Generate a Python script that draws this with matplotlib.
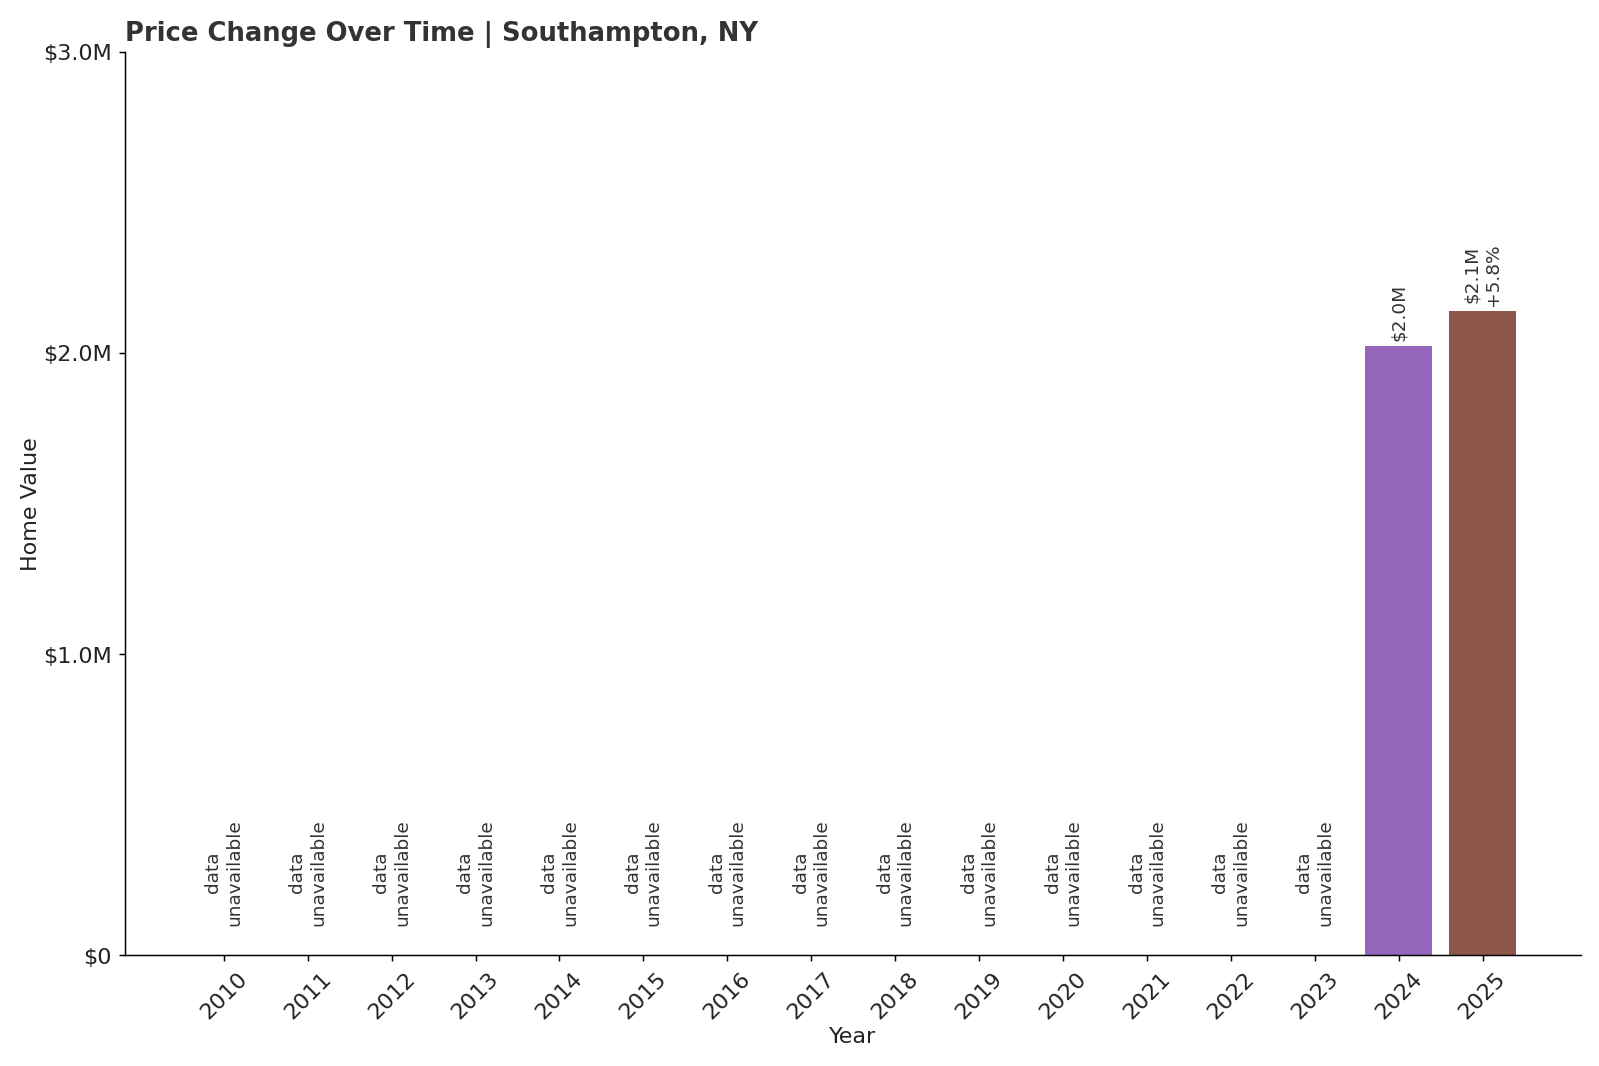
import numpy as np
import matplotlib
matplotlib.use("Agg")
import matplotlib.pyplot as plt
from matplotlib.ticker import FuncFormatter

# home values per year, None = no data
years = list(range(2010, 2026))
values = [None] * 14 + [2022000, 2139000]

colors = plt.get_cmap("tab10").colors

fig, ax = plt.subplots(figsize=(12, 8), dpi=133.33)

x = np.arange(len(years))
prev = None
for i, v in enumerate(values):
    if v is None:
        ax.text(x[i], 100000, "data\nunavailable", rotation=90, ha="center", va="bottom",
                fontsize=10, color="#333333")
        continue
    ax.bar(x[i], v, width=0.8, color=colors[i % 10])
    label = "$%.1fM" % (v / 1e6)
    if prev is not None:
        label += "\n%+.1f%%" % ((v - prev) / prev * 100)
    ax.text(x[i], v + 20000, label, rotation=90, ha="center", va="bottom",
            fontsize=10, color="#333333")
    prev = v

def money(val, pos):
    if val == 0:
        return "$0"
    return "$%.1fM" % (val / 1e6)

ax.yaxis.set_major_formatter(FuncFormatter(money))
ax.set_ylim(0, 3000000)
ax.set_yticks([0, 1000000, 2000000, 3000000])
ax.set_xlim(-1.18, 16.17)
ax.set_xticks(x)
ax.set_xticklabels([str(y) for y in years], rotation=45, fontsize=12, color="#222222")
ax.tick_params(axis="y", labelsize=12, labelcolor="#222222")
ax.spines["top"].set_visible(False)
ax.spines["right"].set_visible(False)
ax.set_xlabel("Year", fontsize=12, color="#222222", labelpad=2)
ax.set_ylabel("Home Value", fontsize=12, color="#222222", labelpad=1)
ax.set_title("Price Change Over Time | Southampton, NY", loc="left", fontsize=14,
             fontweight="bold", color="#333333")

plt.subplots_adjust(left=0.078, right=0.988, top=0.951, bottom=0.104)
plt.savefig("out.png", dpi=133.33)
